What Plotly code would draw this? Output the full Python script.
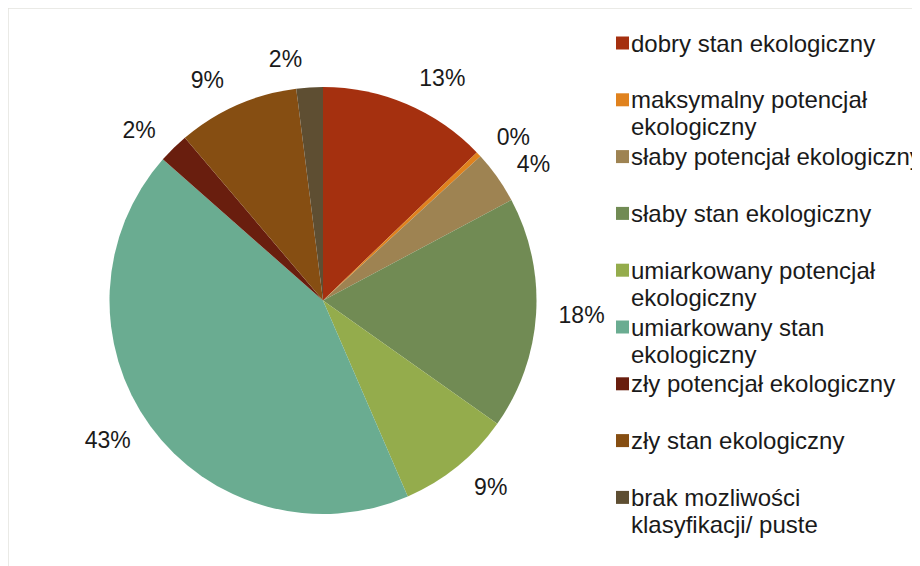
import plotly.graph_objects as go

categories = [
    "dobry stan ekologiczny",
    "maksymalny potencjał ekologiczny",
    "słaby potencjał ekologiczny",
    "słaby stan ekologiczny",
    "umiarkowany potencjał ekologiczny",
    "umiarkowany stan ekologiczny",
    "zły potencjał ekologiczny",
    "zły stan ekologiczny",
    "brak mozliwości klasyfikacji/ puste",
]
legend_text = [
    ["dobry stan ekologiczny"],
    ["maksymalny potencjał", "ekologiczny"],
    ["słaby potencjał ekologiczny"],
    ["słaby stan ekologiczny"],
    ["umiarkowany potencjał", "ekologiczny"],
    ["umiarkowany stan", "ekologiczny"],
    ["zły potencjał ekologiczny"],
    ["zły stan ekologiczny"],
    ["brak mozliwości", "klasyfikacji/ puste"],
]
values = [12.8, 0.4, 4.0, 17.6, 8.7, 43.0, 2.3, 9.2, 2.0]
colors = ["#A5300F", "#E0821E", "#9E8352", "#718B54", "#94AC4C",
          "#6AAC91", "#691E0E", "#864E12", "#5E4E32"]

# the page places the figure 8px from the top-left corner of the window
OFF = 8
W, H = 920, 566
def px(x):
    return (x - OFF) / W
def py(y):
    return 1 - (y - OFF) / H

cx, cy, r = 323, 300.5, 213.5
r_lab = r + 16
font = "Liberation Sans, Arial, sans-serif"
fs_lab = 23
fs_leg = 24

pct = "%{percent:.0%}"
n = len(values)
# labels split over invisible carrier pies so neighbouring labels are not pushed
groups = [[0, 2, 3, 4, 5, 6, 7], [1], [8]]

fig = go.Figure()
for g in groups:
    fig.add_trace(go.Pie(
        labels=categories, values=values, sort=False, direction="clockwise",
        rotation=0, marker=dict(colors=["rgba(0,0,0,0)"] * n, line=dict(width=0)),
        textinfo="none", textposition="outside",
        texttemplate=[pct if i in g else "" for i in range(n)],
        textfont=dict(family=font, size=fs_lab, color="#1a1a1a"),
        domain=dict(x=[px(cx - r_lab), px(cx + r_lab)], y=[py(cy + r_lab), py(cy - r_lab)]),
        showlegend=False, hoverinfo="skip",
    ))
fig.add_trace(go.Pie(
    labels=categories, values=values, sort=False, direction="clockwise",
    rotation=0, marker=dict(colors=colors, line=dict(width=0)),
    textinfo="none",
    domain=dict(x=[px(cx - r), px(cx + r)], y=[py(cy + r), py(cy - r)]),
    showlegend=False,
))

# outer frame
fig.add_shape(type="rect", xref="paper", yref="paper",
              x0=0, x1=1.05, y0=-0.05, y1=1,
              line=dict(color="#E4E4DE", width=1.5), fillcolor="rgba(0,0,0,0)")

# legend
y0, step, lh = 43, 56.8, 27
for i, lines in enumerate(legend_text):
    yc = y0 + step * i
    fig.add_shape(type="rect", xref="paper", yref="paper",
                  x0=px(616), x1=px(629), y0=py(yc + 6.5), y1=py(yc - 6.5),
                  line=dict(width=0), fillcolor=colors[i])
    for j, t in enumerate(lines):
        fig.add_annotation(x=px(629), y=py(yc + lh * j), xref="paper", yref="paper",
                           text=t, showarrow=False, xanchor="left", yanchor="middle",
                           font=dict(family=font, size=fs_leg, color="#1a1a1a"))

fig.update_layout(
    width=W, height=H, margin=dict(l=0, r=0, t=0, b=0),
    paper_bgcolor="white", plot_bgcolor="white", showlegend=False,
)
fig.write_html("out.html")
